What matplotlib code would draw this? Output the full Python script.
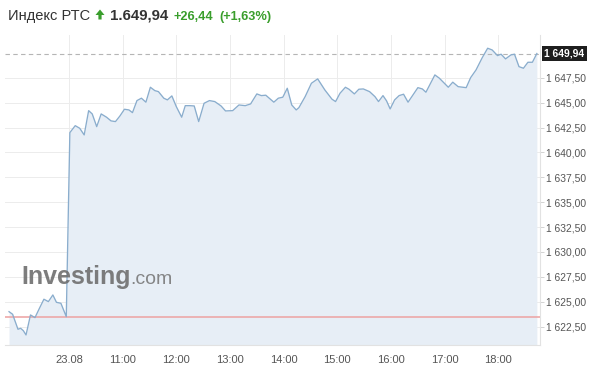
import matplotlib
matplotlib.use("Agg")
import matplotlib.pyplot as plt
from matplotlib.patches import Polygon
from matplotlib.ticker import FuncFormatter, FixedLocator

# ---------------- data ----------------
title_name = "Индекс РТС"
last_price = 1649.94
change_abs = 26.44
change_pct = 1.63
prev_close = 1623.50

# minutes relative to 10:00 of 23.08 (negative = end of previous session)
minutes = [-67, -63, -57, -54, -51, -48, -43, -38, -33, -28, -23, -18, -14, -9, -3,
           1, 7, 12, 17, 22, 26, 31, 36, 42, 47, 52, 57, 62, 67, 71, 76, 81, 86,
           91, 96, 100, 106, 110, 115, 120, 126, 130, 135, 140, 145, 151, 157, 163,
           170, 175, 183, 190, 197, 203, 210, 215, 220, 229, 234, 239, 244, 249,
           254, 257, 264, 271, 278, 286, 294, 298, 303, 309, 313, 319, 324, 329,
           336, 342, 346, 351, 355, 359, 364, 369, 374, 379, 384, 390, 395, 399,
           409, 414, 424, 429, 435, 444, 449, 455, 462, 468, 473, 479, 483, 488,
           494, 498, 503, 508, 513, 518, 523]
values = [1624.00, 1623.74, 1622.23, 1622.33, 1622.09, 1621.66, 1623.67, 1623.40,
          1624.34, 1625.25, 1625.01, 1625.68, 1624.94, 1624.84, 1623.50,
          1641.99, 1642.69, 1642.43, 1641.76, 1644.20, 1643.87, 1642.59, 1643.87,
          1643.54, 1643.17, 1643.10, 1643.67, 1644.34, 1644.27, 1644.00, 1645.21,
          1645.45, 1645.05, 1646.55, 1646.21, 1646.11, 1645.45, 1645.28, 1645.68,
          1644.60, 1643.54, 1644.70, 1644.70, 1644.67, 1643.10, 1644.94, 1645.21,
          1645.11, 1644.67, 1644.17, 1644.20, 1644.77, 1644.70, 1644.87, 1645.88,
          1645.71, 1645.75, 1645.05, 1645.45, 1645.55, 1646.45, 1644.77, 1644.27,
          1644.50, 1645.61, 1646.95, 1647.39, 1646.28, 1645.35, 1645.11, 1645.95,
          1646.55, 1646.35, 1645.88, 1646.35, 1646.38, 1646.11, 1645.61, 1645.11,
          1645.71, 1645.18, 1644.37, 1645.28, 1645.71, 1645.85, 1645.05, 1645.71,
          1646.51, 1646.38, 1646.05, 1647.79, 1647.46, 1646.55, 1647.06, 1646.61,
          1646.51, 1647.52, 1648.29, 1649.53, 1650.47, 1650.30, 1649.73, 1649.87,
          1649.40, 1649.80, 1649.87, 1648.62, 1648.46, 1649.06, 1649.06, 1649.94]

x_tick_minutes = [0, 60, 120, 180, 240, 300, 360, 420, 480]
x_tick_labels = ["23.08", "11:00", "12:00", "13:00", "14:00", "15:00", "16:00", "17:00", "18:00"]
y_ticks = [1622.5, 1625.0, 1627.5, 1630.0, 1632.5, 1635.0, 1637.5, 1640.0, 1642.5, 1645.0, 1647.5]

# ---------------- styling ----------------
W, H = 590, 372
plt.rcParams['font.family'] = ['Liberation Sans', 'DejaVu Sans']
fig = plt.figure(figsize=(W / 100, H / 100), dpi=100)
fig.patch.set_facecolor("white")

ax_l, ax_r, ax_t, ax_b = 5, 540, 35, 345
ax = fig.add_axes([ax_l / W, 1 - ax_b / H, (ax_r - ax_l) / W, (ax_b - ax_t) / H])

ymin, ymax = 1620.65, 1651.8
xmin, xmax = -71.5, 526.5
ax.set_xlim(xmin, xmax)
ax.set_ylim(ymin, ymax)

line_col = "#8aadcd"
fill_col = "#e7eef6"
ax.fill_between(minutes, values, ymin, color=fill_col, lw=0, zorder=1)
ax.plot(minutes, values, color=line_col, lw=0.95, zorder=4)

ax.axhline(prev_close, color="#eda8a8", lw=1.2, zorder=3)
ax.axhline(last_price, color="#b5b5b5", lw=0.8, ls=(0, (4, 3)), zorder=3)

ax.yaxis.tick_right()
ax.yaxis.set_major_locator(FixedLocator(y_ticks))
ax.yaxis.set_major_formatter(FuncFormatter(
    lambda v, p: f"{v:,.2f}".replace(",", " ").replace(".", ",")))
ax.set_xticks(x_tick_minutes)
ax.set_xticklabels(x_tick_labels)
ax.tick_params(axis="x", length=0, pad=7, labelsize=8, labelcolor="#555555")
ax.tick_params(axis="y", length=3, width=0.6, color="#cccccc", pad=1.5,
               labelsize=7.4, labelcolor="#555555")

ax.grid(True, color="#ececec", lw=0.7, zorder=0)
ax.set_axisbelow(True)
for s in ["top", "left"]:
    ax.spines[s].set_visible(False)
for s in ["right", "bottom"]:
    ax.spines[s].set_color("#e2e2e2")
    ax.spines[s].set_linewidth(0.8)

# last-price label box
ax.annotate(f"{last_price:,.2f}".replace(",", " ").replace(".", ","),
            xy=(1.0, last_price), xycoords=("axes fraction", "data"),
            xytext=(3, 0), textcoords="offset points",
            ha="left", va="center", fontsize=7.4, fontweight="bold", color="white",
            bbox=dict(boxstyle="square,pad=0.25", fc="#1e1e1e", ec="none"),
            annotation_clip=False, zorder=10)

# watermark
fig.text(21 / W, 1 - 284 / H, "Investing", fontsize=18, fontweight="bold",
         color="#6f6f6f", alpha=0.9, ha="left", va="baseline")
fig.text(130.5 / W, 1 - 284 / H, ".com", fontsize=14, color="#7a7a7a",
         alpha=0.9, ha="left", va="baseline")

# title row
ty = 1 - 20 / H
fig.text(8 / W, ty, title_name, fontsize=10.5, color="#333333", ha="left", va="baseline")
green = "#3a9e2c"
arrow = Polygon([(95.5 / W, 1 - 15 / H), (100 / W, 1 - 9.5 / H), (104.5 / W, 1 - 15 / H),
                 (101.6 / W, 1 - 15 / H), (101.6 / W, 1 - 19.5 / H),
                 (98.4 / W, 1 - 19.5 / H), (98.4 / W, 1 - 15 / H)],
                closed=True, transform=fig.transFigure, fc=green, ec="none")
fig.patches.append(arrow)
fig.text(110 / W, ty, f"{last_price:,.2f}".replace(",", "X").replace(".", ",").replace("X", "."),
         fontsize=10.8, fontweight="bold", color="#333333", ha="left", va="baseline")
fig.text(173 / W, ty, f"+{change_abs:.2f}".replace(".", ","), fontsize=9.2,
         fontweight="bold", color=green, ha="left", va="baseline")
fig.text(219 / W, ty, f"(+{change_pct:.2f}%)".replace(".", ","), fontsize=9.2,
         fontweight="bold", color=green, ha="left", va="baseline")

fig.savefig("out.png", dpi=100, facecolor="white")
